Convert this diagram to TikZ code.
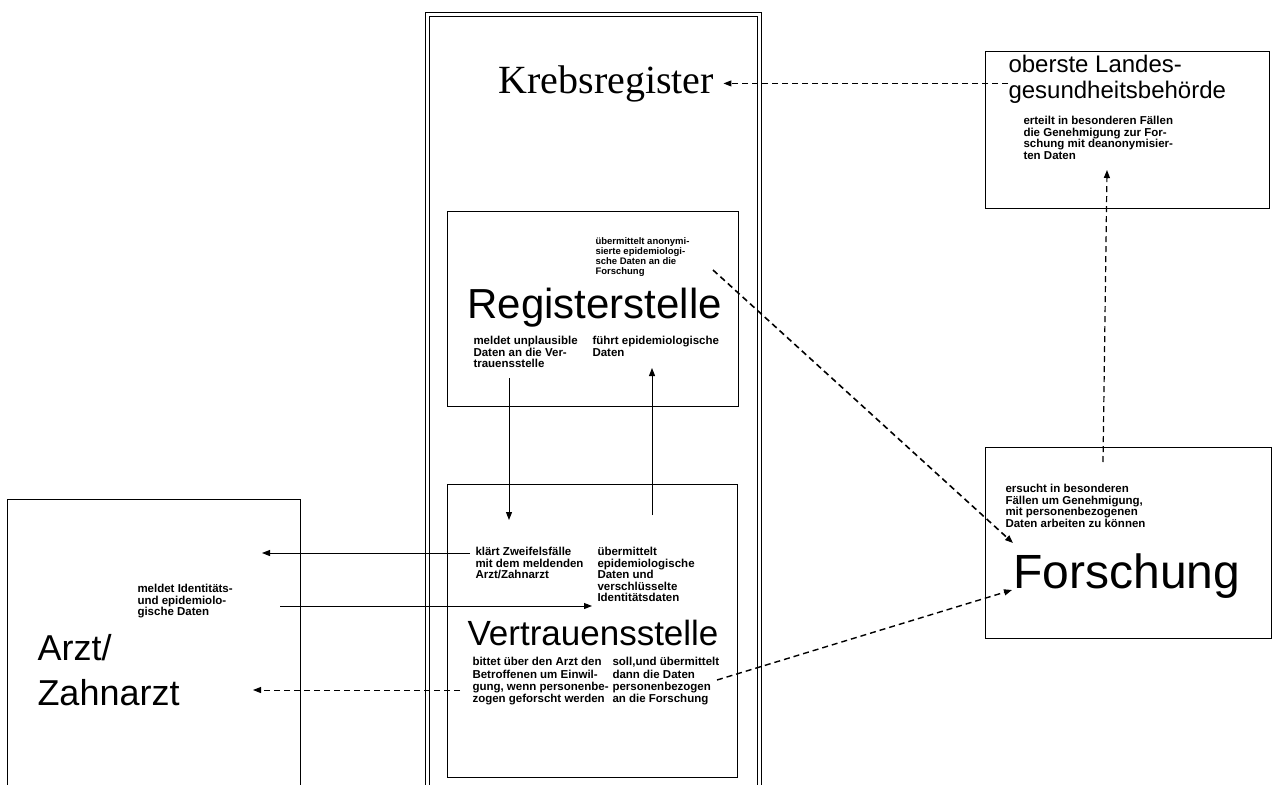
\documentclass[tikz,border=0pt]{standalone}
\usepackage{fontspec}
\setmainfont{Liberation Sans}
\newfontfamily\krebsfont{Liberation Serif}
\usetikzlibrary{arrows.meta}

\begin{document}
\begin{tikzpicture}[x=1pt, y=-1pt, line width=1pt,
  box/.style={draw, line width=1pt, inner sep=0pt},
  txt/.style={anchor=north west, inner sep=0pt, align=left, font=\fontsize{11.5}{11.5}\selectfont\bfseries},
  tiny/.style={txt, font=\fontsize{9.5}{10}\selectfont\bfseries},
  big/.style={anchor=base west, inner sep=0pt, align=left},
  tip/.style={-{Triangle[length=8pt,width=6pt]}},
  dashline/.style={dash pattern=on 6pt off 4pt}]

\useasboundingbox (0,0) rectangle (1273,784);

\node[box, double, double distance=3pt, minimum width=332pt, minimum height=800pt] (register) at (593.5,415) {};
\node[box, minimum width=291pt, minimum height=195pt] (regbox) at (592.5,308.5) {};
\node[box, minimum width=290pt, minimum height=293pt] (vertbox) at (592,630.5) {};
\node[box, minimum width=293pt, minimum height=300pt] (arztbox) at (153.5,649) {};
\node[box, minimum width=286pt, minimum height=191pt] (forschbox) at (1128,542.5) {};
\node[box, minimum width=284pt, minimum height=156pt] (landesbox) at (1127,130) {};

\node[big, font=\krebsfont\fontsize{40}{40}\selectfont] (krebs) at (498,93) {Krebsregister};
\node[big, font=\fontsize{24}{25}\selectfont] (landes) at (1008,98) {oberste Landes-\\gesundheitsbehörde};
\node[txt] (genehmigung) at (1023,116) {erteilt in besonderen Fällen\\die Genehmigung zur For-\\schung mit deanonymisier-\\ten Daten};
\node[tiny] (anonym) at (595,237) {übermittelt anonymi-\\sierte epidemiologi-\\sche Daten an die\\Forschung};
\node[big, font=\fontsize{42}{42}\selectfont] (regstelle) at (467,318) {Registerstelle};
\node[txt] (unplausibel) at (473,336) {meldet unplausible\\Daten an die Ver-\\trauensstelle};
\node[txt] (fuehrt) at (592,336) {führt epidemiologische\\Daten};
\node[txt] (zweifel) at (475,547) {klärt Zweifelsfälle\\mit dem meldenden\\Arzt/Zahnarzt};
\node[txt] (uebermittelt) at (597,547) {übermittelt\\epidemiologische\\Daten und\\verschlüsselte\\Identitätsdaten};
\node[big, font=\fontsize{35}{35}\selectfont] (vertstelle) at (467,645) {Vertrauensstelle};
\node[txt, font=\fontsize{11.5}{12.3}\selectfont\bfseries] (einwilligung) at (472,657) {bittet über den Arzt den\\Betroffenen um Einwil-\\gung, wenn personenbe-\\zogen geforscht werden};
\node[txt, font=\fontsize{11.5}{12.3}\selectfont\bfseries] (personen) at (612,657) {soll,und übermittelt\\dann die Daten\\personenbezogen\\an die Forschung};
\node[txt] (ersucht) at (1005,484) {ersucht in besonderen\\Fällen um Genehmigung,\\mit personenbezogenen\\Daten arbeiten zu können};
\node[big, font=\fontsize{48}{48}\selectfont] (forschung) at (1013,588) {Forschung};
\node[txt] (meldet) at (137,584) {meldet Identitäts-\\und epidemiolo-\\gische Daten};
\node[big, font=\fontsize{36}{45}\selectfont] (arzt) at (37,705) {Arzt/\\Zahnarzt};

\coordinate (anonymout) at (713,270);
\coordinate (forschin) at (1013,543);
\coordinate (regdown) at (509,378);
\coordinate (vertin) at (509,520);
\coordinate (vertup) at (652,515);
\coordinate (regin) at (652,368);
\coordinate (klaerout) at (470,553);
\coordinate (arztin) at (262,553);
\coordinate (meldout) at (280,606);
\coordinate (meldin) at (592,606);
\coordinate (bittetout) at (460,690);
\coordinate (bittetin) at (253,690);
\coordinate (persout) at (717,680);
\coordinate (forschin2) at (1012,590);
\coordinate (ersuchtout) at (1103,462);
\coordinate (landesin) at (1107,170);

\draw[dashline, tip] (landes.west |- krebs.east) -- ([xshift=9pt]krebs.east);
\draw[dashline, tip, line width=1.6pt] (anonymout) -- (forschin);
\draw[tip] (regdown) -- (vertin);
\draw[tip] (vertup) -- (regin);
\draw[tip] (klaerout) -- (arztin);
\draw[tip] (meldout) -- (meldin);
\draw[dashline, tip] (bittetout) -- (bittetin);
\draw[dashline, tip, line width=1.4pt] (persout) -- (forschin2);
\draw[dashline, tip, line width=1.2pt] (ersuchtout) -- (landesin);

\end{tikzpicture}
\end{document}
